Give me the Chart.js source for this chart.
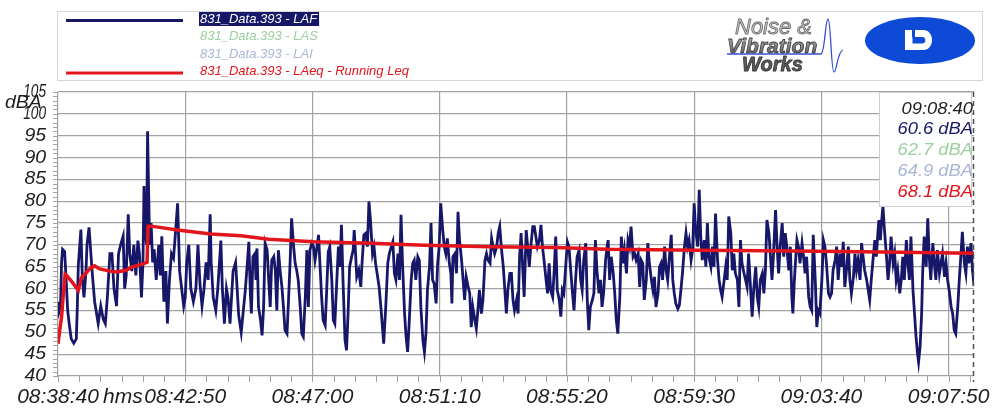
<!DOCTYPE html>
<html>
<head>
<meta charset="utf-8">
<script src="https://cdn.jsdelivr.net/npm/chart.js@4/dist/chart.umd.min.js"></script>
<style>
  html, body { margin: 0; padding: 0; background: #ffffff; }
  canvas { display: block; }
</style>
</head>
<body>
<canvas id="c" width="999" height="410"></canvas>
<script>
// Measurement file 831_Data.393, started 08:38:40, 30 minutes
const startTime = '08:38:40';

const seriesNames = [
  '831_Data.393 - LAF',
  '831_Data.393 - LAS',
  '831_Data.393 - LAI',
  '831_Data.393 - LAeq - Running Leq'
];

// LAF: seconds after start
const lafTimes = [
  0,2,5,7,9,13,16,19,22,26,
  31,36,38,40,45,48,51,55,57,61,
  67,72,79,84,89,93,97,102,106,110,
  115,119,123,128,131,134,138,141,145,149,
  153,157,160,164,167,169,171,174,176,180,
  183,186,189,193,198,201,204,208,212,215,
  219,223,227,231,235,239,243,247,250,253,
  257,261,266,271,275,279,283,287,291,295,
  299,301,305,310,314,320,323,327,331,334,
  338,344,349,352,355,360,365,368,372,375,
  378,380,383,387,389,391,394,398,401,404,
  407,411,414,417,420,424,427,430,433,437,
  440,443,446,450,453,456,459,463,466,469,
  472,476,479,482,486,489,492,495,499,502,
  505,508,512,515,518,521,525,528,531,534,
  538,541,544,547,551,554,557,560,564,567,
  570,573,577,580,582,584,587,591,595,597,
  601,605,608,611,614,618,621,624,627,631,
  635,640,644,648,651,655,658,661,664,668,
  671,674,677,681,684,687,690,694,697,700,
  703,707,710,713,717,720,
  723,726,730,733,
  736,739,743,746,749,752,756,759,762,765,
  769,772,774,776,780,783,786,789,793,796,
  799,802,806,809,812,815,819,822,825,828,
  832,835,839,842,845,849,852,855,858,862,
  865,868,871,875,878,881,884,888,891,894,
  897,901,904,907,910,913,916,920,923,926,
  929,933,936,939,942,946,949,952,955,959,
  962,965,968,972,975,978,981,985,988,991,
  994,998,1001,1004,1007,1011,1014,1017,1020,1024,
  1027,1030,1033,1037,1040,1043,1046,1050,1053,1056,
  1059,1063,1066,1069,1072,1076,1079,
  1081,1084,1087,
  1091,1094,1097,1100,1104,1107,1110,1113,1117,1120,
  1123,1126,1130,1133,1136,1140,1143,1146,1149,1152,
  1156,1159,1162,1166,1169,1172,1175,1179,1182,1185,
  1188,1192,1195,1198,1201,1205,1208,1211,1214,1218,
  1221,1224,1227,1231,1234,1237,1240,1244,1247,1250,
  1253,1257,1260,1263,1266,1270,1273,1276,1279,1283,
  1286,1289,1292,1296,1299,1302,1305,1309,1312,1315,
  1318,1322,1325,1328,1331,1335,1338,1341,1344,1348,
  1351,1354,1357,1361,1364,1367,1371,1374,1377,1380,
  1384,1387,1390,1393,1397,1400,1403,1406,1410,1413,
  1416,1419,1423,1426,1429,1432,1436,1439,
  1442,1444,
  1447,1449,1452,1455,1458,1462,1465,1468,1471,1475,
  1478,1481,1484,1488,1491,1494,1497,1501,1504,1507,
  1510,1514,1517,1520,1523,1527,1530,1533,1537,1540,
  1543,1546,1550,1553,1556,1559,1563,1566,1569,1572,
  1576,1579,1582,1585,1589,1592,1595,1598,1602,1605,
  1608,1611,1613,1616,1618,1621,1624,1628,1631,1634,
  1637,1641,1644,1647,1650,1654,1657,1660,1663,1667,
  1670,1673,1676,1680,1683,1686,1689,1691,1694,1697,
  1699,1702,1706,1709,1712,1715,1719,1722,1725,1728,
  1732,1735,1738,1742,1745,1748,1751,1755,1758,1761,
  1764,1768,1771,1774,1777,1781,1784,1787,1790,1794,
  1797,1800
];

// LAF: level in dBA at each of the times above
const lafValues = [
  57,54.7,56,66,69,68.5,62,55,52,48.5,
  47.5,48.5,56,65.5,73.5,62,58,64,70,74,
  64,57,52,56,53,52,58,68,68,60,
  56,68,70,72,60,63,77,68,64,70,
  63,71,68,58,66,83.5,74,70,96,70,
  75,66,69,62,70,63,72,57,64,52,
  62,68,67,73,79.5,64,60,56,58,66,
  70,60,57,60,70,61,56,60,66,62,
  77,66,58,55,60,71,60,52,60,58,
  52,64,66,60,54,50,56,59.6,65.8,70.7,
  58.9,54.3,67.3,68,62,69.2,55.8,52.8,49.3,55.8,
  70.4,68.8,62,55.8,66.5,67.3,64.2,55,68.8,63.5,
  60.4,55.8,50.5,49.7,57.4,65.8,76.1,69.6,65.8,64.2,
  62,55.8,49.7,49,58.1,68.8,55.8,68.8,70.4,69.6,
  66.5,68.8,72.3,65,58.1,52.8,51.6,59.7,68.4,69.6,
  62,52.8,52,59.7,69.6,65,74.6,62,48.2,45.9,
  54.3,65,67.3,68.8,73.4,69.6,62.7,64.2,60.4,65,
  72.3,72.7,69.6,79.9,75.7,68,69.6,65.8,63.5,60.4,
  55,47.4,55.8,65.8,68,69.6,70.7,63.5,62,68,
  62,76.9,65.8,54.3,49,45.5,52,62,65.8,66.5,
  62,67.3,66.5,55.8,48.2,45.5,
  49.7,59.7,65,75,
  62,61.2,56.6,65.8,69.6,79.5,73.4,69.6,68,71.5,
  65.8,63.5,56.6,67.3,68,63.5,77.6,71.1,66.5,62,
  57.4,62.7,60.4,58.9,51.2,55.8,52.8,50.9,55,59.7,
  54.3,57.4,66.5,68,66.5,65.8,71.5,69.6,68,69.6,
  72.7,74.2,69.6,65,59.7,54.3,59.7,63.5,63.5,57.4,
  55,57.4,54.3,67.3,72.7,65,58.1,73.4,69.6,65,
  69.6,74.2,74.2,71.9,69.6,71.1,74.6,69.6,66.5,62,
  58.9,65.8,59.7,58.1,64.2,71.9,59.7,57.4,53.6,59.7,
  58.9,65.8,70.7,69.6,65,58.9,55,62,67.3,68.8,
  62,59.7,66.5,70.4,57.4,50.5,55.8,57.4,58.9,71.1,
  64.2,58.9,62,55.8,58.9,66.5,69.6,
  71.1,62,67.3,
  63.5,58.9,52.8,49.7,58.1,71.9,65.8,68.8,63.5,71.1,
  69.6,74.2,67.3,68,66.5,68,60.4,66.5,65.8,57.4,
  62,70.4,65.8,62,59.7,62.7,55.8,58.9,65,65.8,
  62,69.6,64.2,62,66.5,72.3,62,58.9,56.6,55.4,
  56.2,59.7,63.5,69.6,72.7,69.6,71.1,66.5,68.8,79.5,
  73.4,69.6,82.6,71.9,66.5,71.1,65,75,67.3,65,
  69.6,65,77.2,66.5,62,59.7,58.1,62,65,62,
  76.5,72.7,64.2,68,63.5,62,55.8,71.1,65.8,63.5,
  62,60.4,68,59.7,53.6,59.7,65,58.1,55.8,62,
  63.5,58.9,64.2,75.7,72.7,67.3,62,68,78,69.6,
  63.5,69.6,75,67.3,72.7,69.6,64.2,69.6,
  58.1,54.3,
  62,65.8,71.1,69.6,65.8,70.4,67.3,63.5,67.3,58.1,
  55.8,55,72.3,62,51.2,55,54.3,62,71.1,69.6,
  65.8,58.9,58.1,58.9,64.2,66.5,69.6,62,68,65,
  70.7,60.4,65,69.6,62,58.9,62.7,68,64.2,66.5,
  62,70.4,67.3,64.2,62,59.7,57.4,62,67.3,71.1,
  67.3,72.7,75.7,71.1,75,78.8,73.4,67.3,62,65.8,
  71.9,65.8,68,62,64.2,58.9,62,67.3,62,71.1,
  65.8,62,71.9,59.7,54.3,49,45.1,43.2,46.7,54.3,
  63.5,71.9,65,76.1,67.3,62,70.4,65.8,62,68.8,
  63.5,65.8,68,62.7,65.8,62,59.7,55.8,54.3,50.5,
  49.7,55.8,62,67.3,73,65.8,63.5,69.6,65.8,70.4,
  64.2,60.6
];

// Running LAeq: seconds after start and dBA
const leqTimes  = [0, 4, 7, 10, 14, 17, 27, 40, 46, 53, 62, 72, 82, 102, 115, 134, 146, 166, 175, 177, 183, 235, 300, 360, 414, 502, 615, 720, 847, 977, 1080, 1260, 1450, 1620, 1800];
const leqValues = [47.4, 51, 53.5, 58, 63.3, 63, 61.6, 59.6, 62.5, 63.3, 64.5, 65.2, 64.5, 64, 63.8, 64.2, 65, 65.6, 66, 74.3, 74.3, 73.4, 72.5, 72.1, 71.3, 70.7, 70.4, 69.9, 69.6, 69.4, 69.0, 68.8, 68.6, 68.4, 68.1];

// Slow and impulse levels at the cursor
const lasAtCursor = 62.7;
const laiAtCursor = 64.9;

const xTickSeconds = [0, 250, 500, 750, 1000, 1250, 1500, 1750];
const yTickValues = [40, 45, 50, 55, 60, 65, 70, 75, 80, 85, 90, 95, 100, 105];

const NAVY = '#17176a';
const RED = '#e3151c';
const GREEN_PALE = '#9ccf9e';
const BLUE_PALE = '#aab6d6';
const GRID = '#a2a2a2';
const FONT = '"Liberation Sans", Arial, sans-serif';

function clock(sec) {
  const [h, m, s] = startTime.split(':').map(Number);
  const t = h * 3600 + m * 60 + s + Math.round(sec);
  return [Math.floor(t / 3600) % 24, Math.floor(t / 60) % 60, t % 60]
    .map(n => String(n).padStart(2, '0')).join(':');
}

function stretchText(c, text, x, y, sx, align) {
  c.save();
  c.translate(x, y);
  c.scale(sx, 1);
  c.textAlign = align;
  c.fillText(text, 0, 0);
  c.restore();
}

const nLaf = Math.min(lafTimes.length, lafValues.length);
const lafPoints = lafTimes.slice(0, nLaf).map((t, i) => ({ x: t, y: lafValues[i] }));
const leqPoints = leqTimes.map((t, i) => ({ x: t, y: leqValues[i] }));
const cursorSec = lafTimes[nLaf - 1];

const decorations = {
  id: 'decorations',
  beforeDraw(chart) {
    const c = chart.ctx;
    c.save();
    c.fillStyle = '#ffffff';
    c.fillRect(0, 0, chart.width, chart.height);
    c.restore();
  },
  beforeDatasetsDraw(chart) {
    const c = chart.ctx;
    const a = chart.chartArea;
    const xs = chart.scales.x, ys = chart.scales.y;
    c.save();
    c.strokeStyle = GRID;
    c.lineWidth = 1;
    // minor ticks below the time axis
    const minor = 250 / 6;
    for (let k = 0; k * minor <= xs.max + 0.01; k++) {
      const px = Math.round(xs.getPixelForValue(k * minor)) + 0.5;
      c.beginPath(); c.moveTo(px, a.bottom); c.lineTo(px, a.bottom + 6); c.stroke();
    }
    // minor ticks left of the level axis
    for (let v = ys.min; v <= ys.max; v++) {
      const py = Math.round(ys.getPixelForValue(v)) + 0.5;
      c.beginPath(); c.moveTo(a.left - 5, py); c.lineTo(a.left, py); c.stroke();
    }
    c.restore();
  },
  afterDatasetsDraw(chart) {
    const c = chart.ctx;
    const a = chart.chartArea;
    const xs = chart.scales.x, ys = chart.scales.y;
    c.save();

    // level axis labels
    c.fillStyle = '#1e1e1e';
    c.font = 'italic 18px ' + FONT;
    c.textBaseline = 'middle';
    stretchText(c, 'dBA', 5, ys.getPixelForValue(102.4), 1.08, 'left');
    yTickValues.forEach(v => {
      const txt = String(v);
      stretchText(c, txt, 46, ys.getPixelForValue(v), txt.length > 2 ? 0.76 : 1.08, 'right');
    });

    // unit after the first time label
    c.font = 'italic 21px ' + FONT;
    c.textAlign = 'left';
    c.fillText('hms', xs.getPixelForValue(0) + 45, 397.5);

    // cursor at the last sample
    const cx = Math.round(xs.getPixelForValue(cursorSec)) - 0.5;
    c.strokeStyle = '#505050';
    c.lineWidth = 1.5;
    c.setLineDash([5, 4]);
    c.beginPath(); c.moveTo(cx, a.top); c.lineTo(cx, a.bottom + 6); c.stroke();
    c.setLineDash([]);

    // cursor readout box
    const bx = 879.5, by = a.top + 0.5, bw = cx - 2 - bx, bh = 114;
    c.fillStyle = '#ffffff';
    c.fillRect(bx, by, bw, bh);
    c.strokeStyle = '#cfcfcf';
    c.lineWidth = 1;
    c.strokeRect(bx, by, bw, bh);
    const rows = [
      [clock(cursorSec), '#1e1e1e'],
      [lafValues[nLaf - 1].toFixed(1) + ' dBA', NAVY],
      [lasAtCursor.toFixed(1) + ' dBA', GREEN_PALE],
      [laiAtCursor.toFixed(1) + ' dBA', BLUE_PALE],
      [leqValues[leqValues.length - 1].toFixed(1) + ' dBA', RED]
    ];
    c.font = 'italic 17px ' + FONT;
    c.textBaseline = 'alphabetic';
    rows.forEach((r, i) => {
      c.fillStyle = r[1];
      stretchText(c, r[0], 973, 113.5 + i * 20.8, 1.08, 'right');
    });
    c.restore();
  },
  afterDraw(chart) {
    const c = chart.ctx;
    c.save();

    // legend panel
    c.strokeStyle = '#d6d6d6';
    c.lineWidth = 1;
    c.strokeRect(57.5, 11.5, 925, 69);
    const rowY = [19, 36.5, 54, 71.5];
    const rowColor = [NAVY, GREEN_PALE, BLUE_PALE, RED];
    c.font = 'italic 13px ' + FONT;
    c.textBaseline = 'middle';
    c.textAlign = 'left';
    seriesNames.forEach((name, i) => {
      if (i === 0 || i === 3) {
        c.strokeStyle = rowColor[i];
        c.lineWidth = 3;
        c.beginPath(); c.moveTo(66, rowY[i] + 1.5); c.lineTo(183, rowY[i] + 1.5); c.stroke();
      }
      if (i === 0) {
        const w = c.measureText(name).width;
        c.fillStyle = NAVY;
        c.fillRect(199, rowY[i] - 7, w + 3, 14);
        c.fillStyle = '#ffffff';
      } else {
        c.fillStyle = rowColor[i];
      }
      c.fillText(name, 200, rowY[i]);
    });

    // Noise & Vibration Works wordmark
    c.textBaseline = 'alphabetic';
    c.textAlign = 'left';
    c.lineJoin = 'round';
    c.font = 'italic 22px ' + FONT;
    c.fillStyle = '#cdcdcd';
    c.strokeStyle = '#6e6e6e';
    c.lineWidth = 0.9;
    c.fillText('Noise &', 735, 34);
    c.strokeText('Noise &', 735, 34);
    c.font = 'italic bold 21px ' + FONT;
    const g = c.createLinearGradient(0, 37, 0, 54);
    g.addColorStop(0, '#b4b4b4');
    g.addColorStop(1, '#5e5e5e');
    c.fillStyle = g;
    c.strokeStyle = '#3e3e3e';
    c.lineWidth = 0.8;
    c.fillText('Vibration', 727, 53);
    c.strokeText('Vibration', 727, 53);
    c.font = 'italic bold 20px ' + FONT;
    c.fillStyle = '#5c5c5c';
    c.strokeStyle = '#333333';
    c.fillText('Works', 742, 71);
    c.strokeText('Works', 742, 71);
    c.strokeStyle = '#3a4fd0';
    c.lineWidth = 1.3;
    c.beginPath();
    c.moveTo(727, 54);
    c.lineTo(821, 54);
    c.bezierCurveTo(825, 53, 825, 20, 828, 19);
    c.bezierCurveTo(831, 20, 831, 72, 834, 72);
    c.bezierCurveTo(837, 72, 837, 52, 843, 50);
    c.stroke();

    // round badge
    c.fillStyle = '#0d4ad6';
    c.beginPath();
    c.ellipse(920, 40.5, 55, 23.5, 0, 0, Math.PI * 2);
    c.fill();
    c.fillStyle = '#ffffff';
    c.beginPath();
    c.moveTo(905, 30);
    c.lineTo(923, 30);
    c.bezierCurveTo(935, 30, 935, 50, 923, 50);
    c.lineTo(905, 50);
    c.closePath();
    c.fill();
    c.fillStyle = '#0d4ad6';
    c.beginPath();
    c.moveTo(912.5, 37);
    c.lineTo(922, 37);
    c.bezierCurveTo(926.5, 37, 926.5, 43.5, 922, 43.5);
    c.lineTo(912.5, 43.5);
    c.closePath();
    c.fill();
    c.fillRect(912, 29, 3, 8.5);
    c.restore();
  }
};

Chart.defaults.font.family = FONT;

new Chart(document.getElementById('c'), {
  type: 'line',
  data: {
    datasets: [
      {
        label: seriesNames[3],
        data: leqPoints,
        borderColor: RED,
        borderWidth: 3.5,
        pointRadius: 0,
        tension: 0,
        order: 0
      },
      {
        label: seriesNames[0],
        data: lafPoints,
        borderColor: NAVY,
        borderWidth: 2.8,
        pointRadius: 0,
        tension: 0,
        order: 1
      }
    ]
  },
  options: {
    responsive: false,
    animation: false,
    devicePixelRatio: 1,
    layout: { padding: { top: 92, right: 19, left: 0, bottom: 0 } },
    plugins: { legend: { display: false }, tooltip: { enabled: false } },
    scales: {
      x: {
        type: 'linear',
        min: 0,
        max: cursorSec,
        afterBuildTicks: s => { s.ticks = xTickSeconds.map(v => ({ value: v })); },
        afterFit: s => { s.height = 34; },
        border: { display: false },
        grid: { color: GRID, lineWidth: 1.2, drawTicks: false },
        ticks: {
          autoSkip: false,
          maxRotation: 0,
          padding: 9,
          color: '#1e1e1e',
          font: { size: 21, style: 'italic' },
          callback: v => clock(v)
        }
      },
      y: {
        min: 40,
        max: 105,
        afterBuildTicks: s => { s.ticks = yTickValues.map(v => ({ value: v })); },
        afterFit: s => { s.width = 58; },
        border: { display: false },
        grid: { color: GRID, lineWidth: 1.2, drawTicks: false },
        ticks: { display: false }
      }
    }
  },
  plugins: [decorations]
});
</script>
</body>
</html>
